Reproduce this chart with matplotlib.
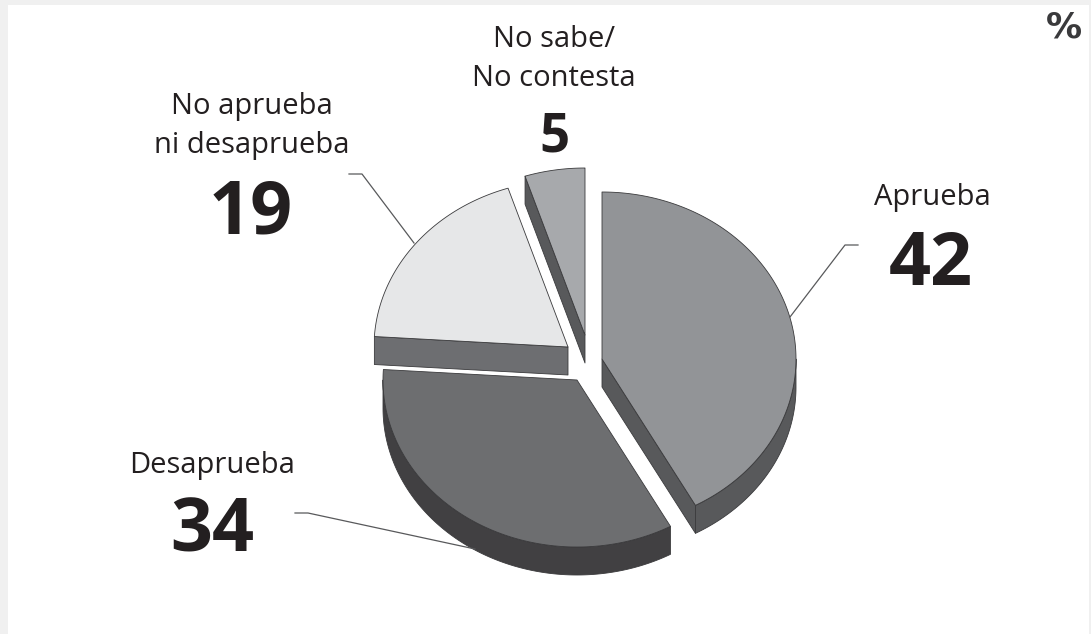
import numpy as np
import matplotlib
matplotlib.use("Agg")
import matplotlib.pyplot as plt

categories = ["Aprueba", "Desaprueba", "No aprueba\nni desaprueba", "No sabe/\nNo contesta"]
values = [42, 34, 19, 5]

# layout, in pixels of the 1091x634 picture
centers = [(602, 359), (577, 380), (568, 347), (585, 335)]
top_colors = ["#929497", "#6d6e70", "#e6e7e8", "#a7a9ac"]
side_colors = ["#58595b", "#414042", "#6d6e71", "#58595b"]
draw_order = [3, 2, 0, 1]
rx, ry, depth = 194, 167, 28
edge = "#3a3a3c"
text_color = "#231f20"

plt.rcParams["font.family"] = ["Open Sans", "DejaVu Sans"]

fig = plt.figure(figsize=(10.91, 6.34), dpi=100, facecolor="#f0f0f0")
ax = fig.add_axes([0, 0, 1, 1])
ax.set_xlim(0, 1091)
ax.set_ylim(634, 0)
ax.axis("off")
ax.fill([8, 1089, 1089, 8], [5, 5, 634, 634], color="white", lw=0)


def arc(cx, cy, a0, a1):
    t = np.radians(np.linspace(a0, a1, 200))
    return cx + rx * np.sin(t), cy - ry * np.cos(t)


def face(xs, ys, color):
    ax.fill(xs, ys, facecolor=color, edgecolor=edge, lw=0.6, joinstyle="round")


edges = np.concatenate([[0], np.cumsum(values)]) * 360 / sum(values)

# leader lines go under the pie
ax.plot([858, 845, 790], [245, 245, 317], color="#58595b", lw=0.9)
ax.plot([295, 308, 475], [513, 513, 549], color="#58595b", lw=0.9)
ax.plot([349, 362, 414], [174, 174, 243], color="#58595b", lw=0.9)

for i in draw_order:
    cx, cy = centers[i]
    a0, a1 = edges[i], edges[i + 1]
    # radial wall that faces the viewer
    for a, visible in ((a0, 180 < a0 < 360), (a1, 0 < a1 < 180)):
        if visible:
            ex, ey = arc(cx, cy, a, a)
            face([cx, ex[0], ex[0], cx], [cy, ey[0], ey[0] + depth, cy + depth], side_colors[i])
    # curved wall, only the front half shows
    lo, hi = max(a0, 90), min(a1, 270)
    if lo < hi:
        x, y = arc(cx, cy, lo, hi)
        face(np.r_[x, x[::-1]], np.r_[y, y[::-1] + depth], side_colors[i])
    x, y = arc(cx, cy, a0, a1)
    face(np.r_[cx, x], np.r_[cy, y], top_colors[i])

label_pos = [(932, 198), (212, 466), (252, 126), (554, 59)]
number_pos = [(931, 266), (212, 532), (251, 215), (554, 138)]
number_size = [53, 53, 53, 38]

for name, v, lp, np_, s in zip(categories, values, label_pos, number_pos, number_size):
    ax.text(lp[0], lp[1], name, ha="center", va="center", fontsize=21, color=text_color, linespacing=1.45)
    ax.text(np_[0], np_[1], str(v), ha="center", va="center", fontsize=s, fontweight="bold", color=text_color)

ax.text(1064, 27, "%", ha="center", va="center", fontsize=26, fontweight="bold", color="#3a3a3c", family="DejaVu Sans")

fig.savefig("out.png", dpi=100, facecolor=fig.get_facecolor())
